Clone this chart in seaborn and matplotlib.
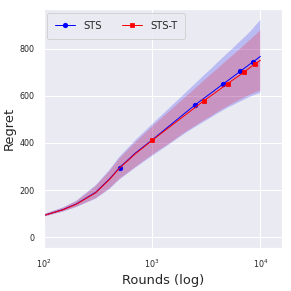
import numpy as np
import pandas as pd
import matplotlib
matplotlib.use("Agg")
import matplotlib.pyplot as plt
import seaborn as sns

rounds = [1, 10, 50, 100, 150, 200, 300, 400, 500, 700, 1000, 1500, 2000, 2500,
          3000, 3500, 4000, 4500, 5000, 5500, 6000, 6500, 7000, 7500, 8000,
          8500, 9000, 9500, 10000]

sts_mean = [0, 10, 50, 92, 117, 141, 190, 245, 295, 357, 413, 479, 526, 562,
            589, 612, 632, 650, 665, 679, 692, 704, 715, 725, 735,
            744, 752, 760, 768]
sts_low = [0, 9, 47, 87, 108, 128, 163, 203, 245, 295, 345, 400, 440, 468,
           490, 508, 525, 538, 550, 559, 568, 576, 583, 590, 596,
           601, 605, 609, 613]
sts_high = [0, 11, 53, 98, 126, 155, 220, 284, 342, 412, 480, 556, 610, 652,
            687, 715, 741, 763, 783, 800, 817, 832, 846, 859, 872,
            885, 899, 911, 923]

stst_mean = [0, 10, 50, 92, 116, 140, 188, 243, 293, 354, 411, 473, 517, 551,
             579, 601, 620, 637, 652, 666, 678, 689, 700, 710, 720,
             729, 737, 744, 751]
stst_low = [0, 9, 47, 87, 109, 129, 165, 206, 248, 298, 350, 404, 445, 473,
            496, 514, 531, 545, 557, 567, 576, 585, 592, 599, 605,
            610, 615, 619, 623]
stst_high = [0, 11, 53, 97, 125, 153, 216, 279, 335, 403, 470, 542, 593, 632,
             665, 692, 715, 736, 755, 771, 786, 800, 814, 826, 838,
             849, 859, 869, 879]

sts_marks = [500, 2500, 4500, 6500, 8500]
stst_marks = [1000, 3000, 5000, 7000, 9000]

df = pd.DataFrame({"rounds": rounds, "sts": sts_mean, "stst": stst_mean})

sns.set_theme(style="darkgrid")

fig, ax = plt.subplots(figsize=(291 / 72, 291 / 72), dpi=72)

ax.fill_between(rounds, sts_low, sts_high, color="blue", alpha=0.2, linewidth=0)
ax.fill_between(rounds, stst_low, stst_high, color="red", alpha=0.2, linewidth=0)

sns.lineplot(data=df, x="rounds", y="sts", ax=ax, color="blue", label="STS",
             marker="o", markersize=4.5, markeredgecolor="blue", linewidth=1,
             markevery=[rounds.index(r) for r in sts_marks])
sns.lineplot(data=df, x="rounds", y="stst", ax=ax, color="red", label="STS-T",
             marker="s", markersize=4.5, markeredgecolor="red", linewidth=1,
             markevery=[rounds.index(r) for r in stst_marks])

ax.set_xscale("log")
ax.set_xlim(left=100)
ax.set_xlabel("Rounds (log)", fontsize=13)
ax.set_ylabel("Regret", fontsize=13)
ax.tick_params(labelsize=8)
ax.set_yticks([0, 200, 400, 600, 800])
ax.legend(loc="upper left", ncol=2, fontsize=10, borderpad=0.8,
          borderaxespad=0.35)

plt.subplots_adjust(left=0.151, right=0.969, top=0.969, bottom=0.148)
plt.savefig("out.png", dpi=72)
